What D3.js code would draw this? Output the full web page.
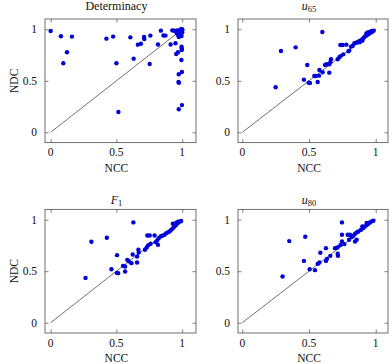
<!DOCTYPE html>
<html><head><meta charset="utf-8">
<script src="https://cdn.jsdelivr.net/npm/d3@7"></script>
<style>html,body{margin:0;padding:0;background:#fff;} text{font-family:"Liberation Serif","Times New Roman",serif;fill:#111;}</style>
</head><body><svg id="c" width="392" height="363"></svg>
<script>
const ticks = [0, 0.5, 1];
const tickLabels = ["0", "0.5", "1"];
const xLabel = "NCC";
const yLabel = "NDC";

const determinacy = [[0,0.984],[0.078,0.932],[0.162,0.929],[0.124,0.777],[0.096,0.670],[0.424,0.909],[0.475,0.929],[0.5,0.670],[0.515,0.197],[0.606,0.922],[0.631,0.715],[0.663,0.851],[0.686,0.859],[0.710,0.925],[0.712,0.905],[0.758,0.939],[0.753,0.663],[0.816,0.852],[0.838,0.987],[0.858,0.940],[0.873,0.939],[0.912,0.852],[0.949,0.864],[0.955,0.760],[0.968,0.777],[0.937,0.987],[0.995,0.83],[0.997,0.815],[0.997,0.80],[0.994,0.702],[0.974,0.563],[0.998,0.586],[0.972,0.489],[0.975,0.48],[0.974,0.224],[0.998,0.264],[0.95,0.98],[0.96,0.99],[0.97,0.97],[0.98,0.99],[0.99,1.0],[1.0,0.99],[0.98,0.95],[0.99,0.96],[1.0,0.97],[0.97,0.94],[0.995,0.935],[0.96,0.96],[0.985,0.975],[1.0,1.0],[0.975,0.925],[0.925,0.99],[0.99,0.98]];

const u65 = [[0.25,0.437],[0.29,0.79],[0.40,0.825],[0.60,0.974],[0.487,0.654],[0.462,0.511],[0.497,0.482],[0.507,0.479],[0.54,0.547],[0.55,0.547],[0.565,0.489],[0.575,0.55],[0.578,0.605],[0.602,0.583],[0.62,0.654],[0.632,0.66],[0.652,0.579],[0.652,0.66],[0.66,0.68],[0.665,0.709],[0.715,0.709],[0.727,0.728],[0.735,0.848],[0.752,0.848],[0.78,0.851],[0.737,0.74],[0.757,0.757],[0.795,0.786],[0.802,0.793],[0.815,0.832],[0.827,0.838],[0.84,0.864],[0.852,0.87],[0.865,0.875],[0.875,0.885],[0.885,0.89],[0.895,0.9],[0.905,0.91],[0.915,0.925],[0.925,0.935],[0.935,0.945],[0.945,0.955],[0.955,0.962],[0.965,0.97],[0.975,0.978],[0.985,0.987],[0.93,0.96],[0.94,0.97],[0.955,0.975],[0.97,0.985],[0.88,0.875],[0.9,0.89]];

const f1 = [[0.265,0.435],[0.31,0.786],[0.427,0.825],[0.629,0.974],[0.505,0.656],[0.462,0.519],[0.503,0.484],[0.513,0.481],[0.55,0.552],[0.566,0.545],[0.566,0.497],[0.583,0.61],[0.593,0.597],[0.614,0.578],[0.624,0.662],[0.657,0.584],[0.657,0.643],[0.67,0.682],[0.667,0.708],[0.717,0.708],[0.73,0.73],[0.735,0.847],[0.753,0.847],[0.79,0.847],[0.742,0.753],[0.76,0.766],[0.798,0.782],[0.81,0.799],[0.816,0.756],[0.821,0.821],[0.836,0.838],[0.848,0.844],[0.866,0.854],[0.879,0.87],[0.891,0.877],[0.904,0.886],[0.917,0.903],[0.929,0.916],[0.942,0.935],[0.955,0.951],[0.967,0.968],[0.98,0.981],[0.992,0.987],[0.929,0.961],[0.955,0.97],[0.97,0.98]];

const u80 = [[0.302,0.448],[0.352,0.792],[0.472,0.834],[0.747,0.974],[0.462,0.60],[0.505,0.519],[0.545,0.51],[0.565,0.571],[0.578,0.584],[0.585,0.679],[0.627,0.724],[0.627,0.60],[0.635,0.62],[0.66,0.649],[0.695,0.724],[0.712,0.73],[0.715,0.669],[0.717,0.649],[0.735,0.753],[0.747,0.789],[0.747,0.854],[0.765,0.763],[0.79,0.854],[0.807,0.854],[0.8,0.805],[0.845,0.789],[0.857,0.805],[0.82,0.831],[0.832,0.844],[0.845,0.864],[0.857,0.877],[0.87,0.886],[0.89,0.903],[0.907,0.919],[0.92,0.935],[0.932,0.948],[0.945,0.961],[0.957,0.974],[0.97,0.984],[0.982,0.99],[0.9,0.935],[0.932,0.968]];

const panels = [
  {title: "Determinacy", data: determinacy, col: 0, row: 0},
  {title: ["u", "65"], data: u65, col: 1, row: 0},
  {title: ["F", "1"], data: f1, col: 0, row: 1},
  {title: ["u", "80"], data: u80, col: 1, row: 1}
];

const cols = [
  {x0: 45, x1: 196, domain: [-0.043, 1.105]},
  {x0: 238, x1: 388, domain: [-0.032, 1.092]}
];
const rows = [
  {y0: 142.6, y1: 19, domain: [-0.1, 1.1], titleY: 9.8, tickY: 156, labY: 171.5},
  {y0: 333, y1: 209.4, domain: [-0.1, 1.1], titleY: 203.5, tickY: 346.5, labY: 361.5}
];

const svg = d3.select("#c");
const frameColor = "#606060";
const tickLen = 3.5;

panels.forEach(p => {
  const C = cols[p.col], R = rows[p.row];
  const x = d3.scaleLinear().domain(C.domain).range([C.x0, C.x1]);
  const y = d3.scaleLinear().domain(R.domain).range([R.y0, R.y1]);
  const g = svg.append("g");

  // diagonal reference line
  const line = d3.line().x(d => x(d)).y(d => y(d));
  g.append("path").attr("d", line([0, 1])).attr("fill", "none")
    .attr("stroke", "#333").attr("stroke-width", 0.7);

  // points
  g.selectAll("circle").data(p.data).enter().append("circle")
    .attr("cx", d => x(d[0])).attr("cy", d => y(d[1])).attr("r", 2.2)
    .attr("fill", "#0000d8").attr("stroke", "none");

  // frame
  g.append("rect").attr("x", C.x0).attr("y", R.y1)
    .attr("width", C.x1 - C.x0).attr("height", R.y0 - R.y1)
    .attr("fill", "none").attr("stroke", frameColor).attr("stroke-width", 0.9);

  // axes with inward ticks, both sides
  const ax = (gen, tx) => g.append("g").attr("transform", tx).call(gen)
    .call(s => s.select(".domain").remove())
    .call(s => s.selectAll("line").attr("stroke", frameColor).attr("stroke-width", 0.8))
    .call(s => s.selectAll("text").remove());
  ax(d3.axisBottom(x).tickValues(ticks).tickSize(-tickLen), `translate(0,${R.y0})`);
  ax(d3.axisTop(x).tickValues(ticks).tickSize(-tickLen), `translate(0,${R.y1})`);
  ax(d3.axisLeft(y).tickValues(ticks).tickSize(-tickLen), `translate(${C.x0},0)`);
  ax(d3.axisRight(y).tickValues(ticks).tickSize(-tickLen), `translate(${C.x1},0)`);

  // tick labels
  ticks.forEach((t, i) => {
    g.append("text").attr("x", x(t)).attr("y", R.tickY).attr("text-anchor", "middle")
      .attr("font-size", 11.5).text(tickLabels[i]);
    g.append("text").attr("x", C.x0 - 8).attr("y", y(t) + 4).attr("text-anchor", "end")
      .attr("font-size", 11.5).text(tickLabels[i]);
  });

  // x label
  g.append("text").attr("x", x(0.5)).attr("y", R.labY).attr("text-anchor", "middle")
    .attr("font-size", 11.5).text(xLabel);

  // y label (left column only)
  if (p.col === 0) {
    g.append("text").attr("transform", `translate(18,${y(0.5)}) rotate(-90)`)
      .attr("text-anchor", "middle").attr("font-size", 11.5).text(yLabel);
  }

  // title
  const tt = g.append("text").attr("x", x(0.5)).attr("y", R.titleY)
    .attr("text-anchor", "middle").attr("font-size", 12);
  if (typeof p.title === "string") {
    tt.text(p.title);
  } else {
    tt.append("tspan").attr("font-style", "italic").text(p.title[0]);
    tt.append("tspan").attr("font-size", 8.5).attr("dy", 2.5).text(p.title[1]);
  }
});
</script></body></html>
